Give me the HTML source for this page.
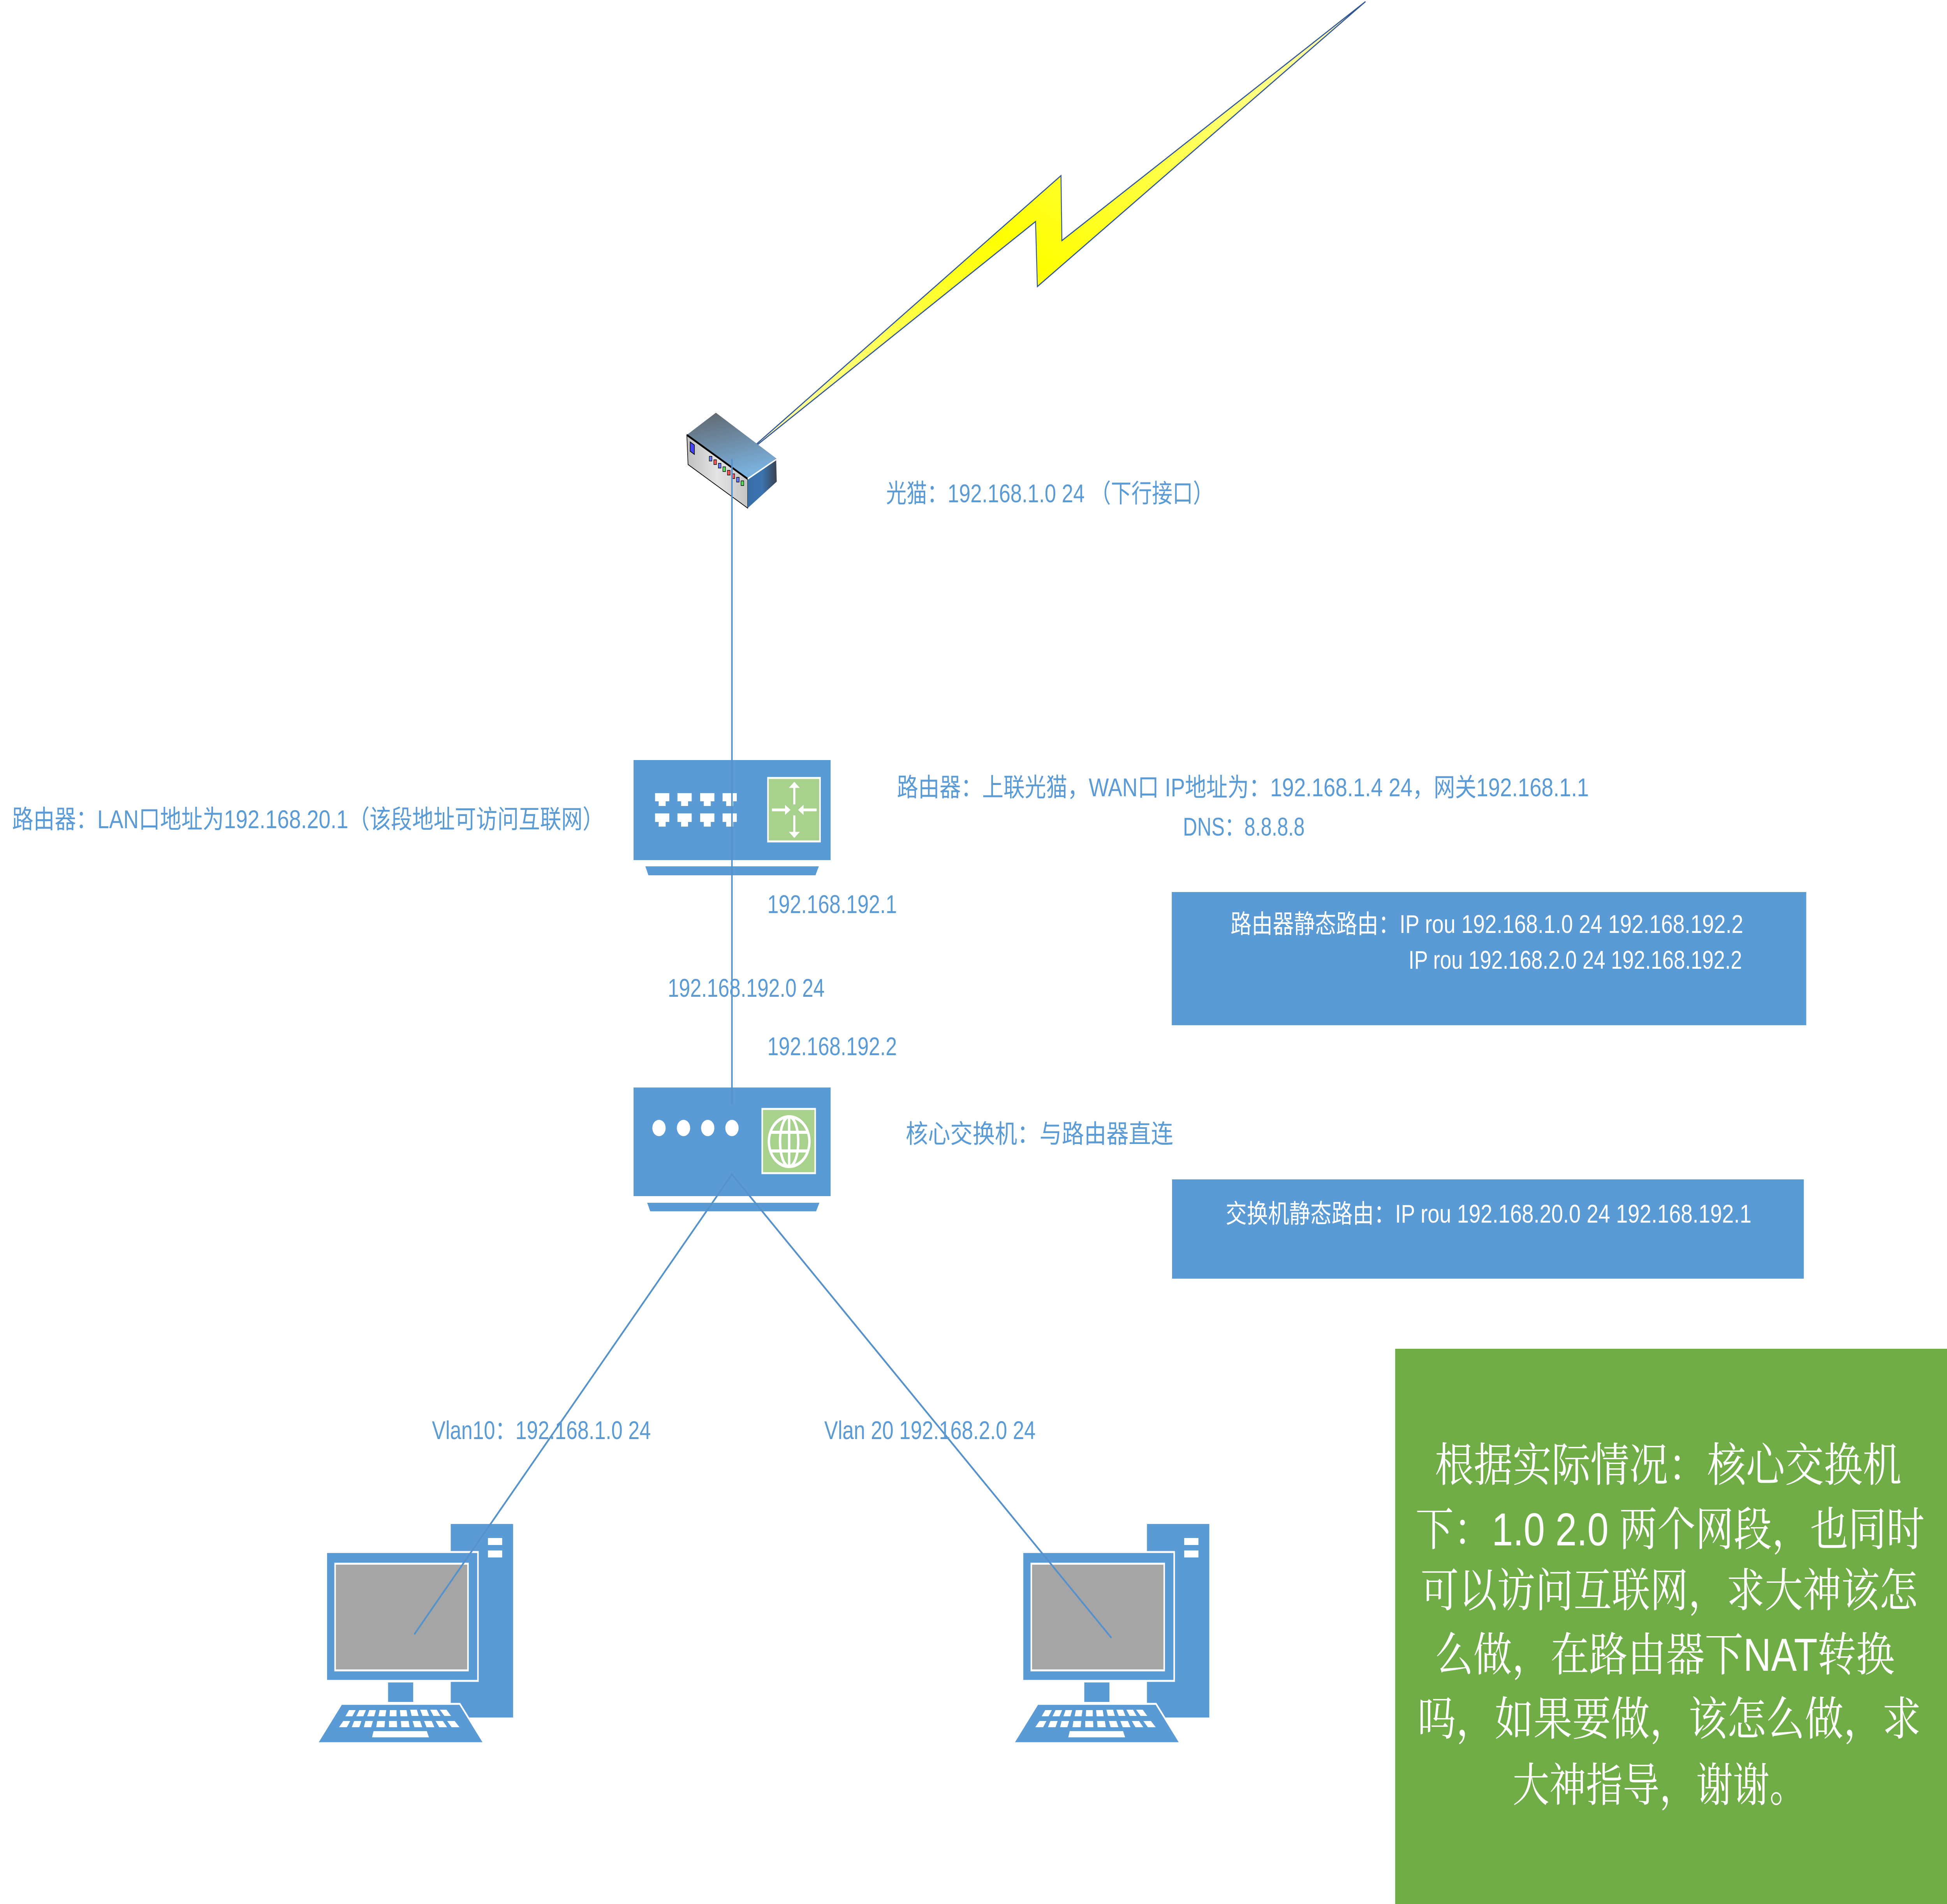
<!DOCTYPE html>
<html><head><meta charset="utf-8"><style>
html,body{margin:0;padding:0;background:#fff;overflow:hidden;}
svg{display:block;width:100vw;height:100vh;}
.t{font-family:"Liberation Sans","Noto Sans CJK SC",sans-serif;font-size:66px;fill:#5b9bd5;}
.w{font-family:"Liberation Sans","Noto Sans CJK SC",sans-serif;font-size:66px;fill:#fff;}
.g{font-family:"Liberation Sans","Noto Serif CJK SC",serif;font-size:119px;fill:#fff;}
</style></head><body>
<svg viewBox="0 0 6432 4890" preserveAspectRatio="none" xmlns="http://www.w3.org/2000/svg">
<defs>
<linearGradient id="bolt" x1="0" y1="1" x2="1" y2="0">
<stop offset="0" stop-color="#ffffc0"/><stop offset="0.45" stop-color="#ffff00"/><stop offset="1" stop-color="#ffffc0"/></linearGradient>
<linearGradient id="mtop" x1="0" y1="0" x2="0.3" y2="1">
<stop offset="0" stop-color="#60646a"/><stop offset="1" stop-color="#7ab0dc"/></linearGradient>
<linearGradient id="mfront" x1="0" y1="0" x2="1" y2="0">
<stop offset="0" stop-color="#c0c0c0"/><stop offset="0.5" stop-color="#e4e4e4"/><stop offset="1" stop-color="#c4c4c4"/></linearGradient>
<linearGradient id="mside" x1="0" y1="0" x2="1" y2="0">
<stop offset="0" stop-color="#3a6ea8"/><stop offset="0.5" stop-color="#3b74b0"/><stop offset="1" stop-color="#3a4250"/></linearGradient>
</defs>

<polygon points="4511,4 3508,618 3505,451 2440,1181 3421,569 3427,736" fill="url(#bolt)" stroke="#2f5597" stroke-width="3"/>

<polygon points="2365,1060 2269,1117 2470,1230 2564,1177" fill="url(#mtop)"/>
<polygon points="2269,1117 2470,1230 2470,1305 2273,1193" fill="url(#mfront)" stroke="#000" stroke-width="2"/>
<line x1="2269" y1="1117" x2="2470" y2="1230" stroke="#000" stroke-width="5"/>
<polygon points="2470,1230 2564,1177 2566,1237 2470,1305" fill="url(#mside)"/>
<line x1="2470" y1="1230" x2="2564" y2="1180" stroke="#fff" stroke-width="4"/>
<polygon points="2280,1135 2294,1143 2294,1167 2280,1159" fill="#4444ff" stroke="#000" stroke-width="2"/>
<g stroke="#000" stroke-width="1.5">
<rect x="2343" y="1172" width="9" height="12" fill="#6677ff"/>
<rect x="2358" y="1181" width="9" height="12" fill="#ff5555"/>
<rect x="2373" y="1190" width="9" height="12" fill="#6677ff"/>
<rect x="2388" y="1199" width="9" height="12" fill="#55dd55"/>
<rect x="2403" y="1208" width="9" height="12" fill="#ff5555"/>
<rect x="2418" y="1217" width="9" height="12" fill="#ff5555"/>
<rect x="2433" y="1226" width="9" height="12" fill="#6677ff"/>
<rect x="2448" y="1235" width="9" height="12" fill="#55dd55"/>
</g>

<rect x="2093" y="1952" width="651" height="257" fill="#5b9bd5"/>
<polygon points="2132,2225 2705,2225 2694,2248 2142,2248" fill="#5b9bd5"/>
<g fill="#fff">
<g id="port">
<rect x="2164" y="2037" width="47" height="21"/><rect x="2176" y="2057" width="23" height="13"/>
<rect x="2164" y="2089" width="47" height="22"/><rect x="2176" y="2110" width="23" height="13"/>
</g>
<use href="#port" x="74"/><use href="#port" x="149"/><use href="#port" x="223"/>
</g>
<rect x="2537" y="1998" width="172" height="163" fill="#a9d18e" stroke="#fff" stroke-width="5"/>
<g stroke="#fff" stroke-width="7" fill="#fff">
<line x1="2624" y1="2012" x2="2624" y2="2066"/><polygon points="2610,2022 2624,2010 2638,2022" stroke-width="3"/>
<line x1="2624" y1="2094" x2="2624" y2="2148"/><polygon points="2610,2138 2624,2150 2638,2138" stroke-width="3"/>
<line x1="2550" y1="2080" x2="2605" y2="2080"/><polygon points="2595,2070 2609,2080 2595,2090" stroke-width="3"/>
<line x1="2643" y1="2080" x2="2698" y2="2080"/><polygon points="2653,2070 2639,2080 2653,2090" stroke-width="3"/>
</g>

<rect x="2093" y="2793" width="651" height="279" fill="#5b9bd5"/>
<polygon points="2138,3089 2707,3089 2696,3111 2148,3111" fill="#5b9bd5"/>
<g fill="#fff"><ellipse cx="2177" cy="2897" rx="22" ry="21"/><ellipse cx="2258" cy="2897" rx="22" ry="21"/><ellipse cx="2338" cy="2897" rx="22" ry="21"/><ellipse cx="2418" cy="2897" rx="22" ry="21"/></g>
<rect x="2518" y="2848" width="175" height="165" fill="#a9d18e" stroke="#fff" stroke-width="5"/>
<g stroke="#fff" stroke-width="8" fill="none">
<ellipse cx="2607" cy="2932" rx="67" ry="64"/>
<ellipse cx="2607" cy="2932" rx="30" ry="64"/>
<line x1="2607" y1="2868" x2="2607" y2="2996"/>
<line x1="2545" y1="2908" x2="2669" y2="2908"/>
<line x1="2545" y1="2956" x2="2669" y2="2956"/>
</g>

<g id="pc">
<rect x="1489" y="3914" width="206" height="497" fill="#5b9bd5"/>
<rect x="1612" y="3950" width="47" height="18" fill="#fff"/><rect x="1612" y="3982" width="47" height="18" fill="#fff"/>
<rect x="1078" y="3986" width="501" height="331" fill="#5b9bd5" stroke="#fff" stroke-width="5"/>
<rect x="1107" y="4016" width="439" height="274" fill="#a5a5a5" stroke="#fff" stroke-width="5"/>
<rect x="1282" y="4321" width="83" height="50" fill="#5b9bd5"/>
<polygon points="1128,4376 1519,4376 1599,4477 1048,4477" fill="#5b9bd5" stroke="#fff" stroke-width="5"/>
<g fill="#fff">
<polygon points="1153,4392 1175,4392 1164,4408 1141,4408"/><polygon points="1187,4392 1209,4392 1200,4408 1177,4408"/><polygon points="1220,4392 1242,4392 1236,4408 1213,4408"/><polygon points="1254,4392 1276,4392 1273,4408 1250,4408"/><polygon points="1288,4392 1310,4392 1310,4408 1287,4408"/><polygon points="1321,4392 1343,4392 1346,4408 1323,4408"/><polygon points="1355,4391 1377,4391 1383,4407 1360,4407"/><polygon points="1388,4391 1410,4391 1418,4407 1396,4407"/><polygon points="1421,4391 1443,4391 1455,4407 1432,4407"/><polygon points="1453,4391 1475,4391 1490,4407 1468,4407"/>
<polygon points="1134,4420 1157,4420 1146,4436 1120,4436"/><polygon points="1170,4420 1194,4420 1187,4436 1162,4436"/><polygon points="1207,4420 1232,4420 1226,4436 1202,4436"/><polygon points="1246,4420 1272,4420 1270,4436 1243,4436"/><polygon points="1285,4420 1311,4420 1312,4436 1285,4436"/><polygon points="1324,4420 1350,4420 1353,4436 1326,4436"/><polygon points="1363,4420 1388,4420 1395,4436 1369,4436"/><polygon points="1401,4420 1426,4420 1435,4436 1409,4436"/><polygon points="1439,4420 1463,4420 1477,4436 1451,4436"/><polygon points="1477,4420 1502,4420 1518,4436 1492,4436"/>
<polygon points="1234,4446 1410,4446 1417,4462 1229,4462"/>
</g>
</g>
<use href="#pc" x="2300"/>

<g stroke="#5592cc" stroke-width="5" fill="none" stroke-linecap="round">
<line x1="2418" y1="1181" x2="2418" y2="2833"/>
<polyline points="1370,4196 2418,3016 3670,4205"/>
</g>

<text class="t" x="2927" y="1290" textLength="1082" lengthAdjust="spacingAndGlyphs">光猫：192.168.1.0 24 （下行接口）</text>
<text class="t" x="2963" y="2045" textLength="2286" lengthAdjust="spacingAndGlyphs">路由器：上联光猫，WAN口 IP地址为：192.168.1.4 24，网关192.168.1.1</text>
<text class="t" x="3908" y="2146" textLength="402" lengthAdjust="spacingAndGlyphs">DNS：8.8.8.8</text>
<text class="t" x="40" y="2127" textLength="1955" lengthAdjust="spacingAndGlyphs">路由器：LAN口地址为192.168.20.1（该段地址可访问互联网）</text>
<text class="t" x="2535" y="2345" textLength="428" lengthAdjust="spacingAndGlyphs">192.168.192.1</text>
<text class="t" x="2206" y="2560" textLength="518" lengthAdjust="spacingAndGlyphs">192.168.192.0 24</text>
<text class="t" x="2535" y="2710" textLength="428" lengthAdjust="spacingAndGlyphs">192.168.192.2</text>
<text class="t" x="2992" y="2935" textLength="884" lengthAdjust="spacingAndGlyphs">核心交换机：与路由器直连</text>
<text class="t" x="1427" y="3696" textLength="723" lengthAdjust="spacingAndGlyphs">Vlan10：192.168.1.0 24</text>
<text class="t" x="2723" y="3696" textLength="698" lengthAdjust="spacingAndGlyphs">Vlan 20 192.168.2.0  24</text>

<rect x="3871" y="2291" width="2096" height="342" fill="#5b9bd5"/>
<text class="w" x="4065" y="2396" textLength="1694" lengthAdjust="spacingAndGlyphs">路由器静态路由：IP rou  192.168.1.0 24 192.168.192.2</text>
<text class="w" x="4653" y="2488" textLength="1102" lengthAdjust="spacingAndGlyphs">IP rou  192.168.2.0 24 192.168.192.2</text>
<rect x="3872" y="3029" width="2087" height="255" fill="#5b9bd5"/>
<text class="w" x="4049" y="3140" textLength="1737" lengthAdjust="spacingAndGlyphs">交换机静态路由：IP rou  192.168.20.0 24 192.168.192.1</text>

<rect x="4609" y="3464" width="1823" height="1426" fill="#70ad47"/>
<text class="g" x="4740" y="3804" textLength="1542" lengthAdjust="spacingAndGlyphs">根据实际情况：核心交换机</text>
<text class="g" x="4676" y="3969" textLength="1682" lengthAdjust="spacingAndGlyphs">下：1.0  2.0 两个网段，也同时</text>
<text class="g" x="4693" y="4126" textLength="1642" lengthAdjust="spacingAndGlyphs">可以访问互联网，求大神该怎</text>
<text class="g" x="4740" y="4291" textLength="1519" lengthAdjust="spacingAndGlyphs">么做，在路由器下NAT转换</text>
<text class="g" x="4682" y="4456" textLength="1664" lengthAdjust="spacingAndGlyphs">吗，如果要做，该怎么做，求</text>
<text class="g" x="4997" y="4626" textLength="970" lengthAdjust="spacingAndGlyphs">大神指导，谢谢。</text>
</svg>
</body></html>
